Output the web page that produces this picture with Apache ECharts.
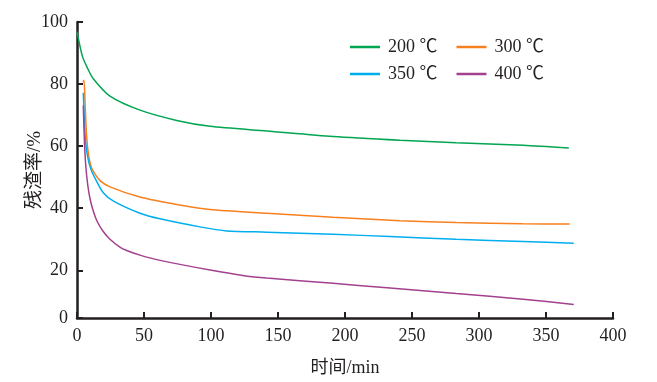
<!DOCTYPE html>
<html>
<head>
<meta charset="utf-8">
<script src="https://cdn.jsdelivr.net/npm/echarts@6/dist/echarts.min.js"></script>
<style>
html,body{margin:0;padding:0;background:#fff;}
#c{width:657px;height:382px;}
</style>
</head>
<body>
<div id="c"></div>
<script>
// ---- data ----
const names = ['200 ℃', '300 ℃', '350 ℃', '400 ℃'];
const colors = ['#00a651', '#f7811f', '#00aeef', '#a3418f'];

const t200 = [0, 4, 8, 12, 24.6, 47, 74.4, 99.3, 141.6, 191, 241, 283, 333, 367];
const v200 = [96.9, 89, 85, 81.8, 76.1, 71.6, 68.3, 66.4, 64.9, 63.1, 61.9, 61.1, 60.3, 59.4];

const t300 = [4.5, 5.2, 6.2, 7.2, 8.5, 10, 12, 17.2, 24.6, 47, 74.4, 99.3, 141.6, 191, 241, 283, 333, 367.7];
const v300 = [80.6, 81.2, 72, 63, 57.5, 54.2, 52.0, 48.9, 46.9, 43.6, 41.2, 39.6, 38.4, 37.1, 36.0, 35.4, 35.0, 34.9];

const t350 = [4.7, 5.6, 6.5, 8, 10, 12.4, 19.6, 27.6, 47, 62, 91.8, 111.7, 141.6, 191, 233.6, 283, 333, 370.7];
const v350 = [77.2, 67, 61, 56.5, 53, 50.6, 45.0, 42.2, 38.4, 36.6, 34.0, 32.7, 32.3, 31.6, 30.9, 30.0, 29.3, 28.7];

const t400 = [4.7, 5.5, 6.5, 8, 10, 12.5, 15, 18.9, 24.6, 32, 37.1, 47, 62, 99.3, 126, 141.6, 191, 233.6, 283, 333, 370.7];
const v400 = [73.1, 62, 54, 47.5, 42.5, 38.6, 35.8, 32.9, 30.0, 27.5, 26.4, 24.9, 23.2, 20.1, 18.2, 17.5, 15.8, 14.3, 12.5, 10.7, 9.0];

const xTicks = [0, 50, 100, 150, 200, 250, 300, 350, 400];
const yBottom = 4.64;           // axis bottom of the reference (labelled "0")
const yTicks = [yBottom, 20, 40, 60, 80, 100];
// ---------------------------------------

const times = [t200, t300, t350, t400];
const vals = [v200, v300, v350, v400];
const pair = (t, v) => t.map((x, i) => [x, v[i]]);

const font = '"Liberation Serif", "Noto Sans CJK SC", serif';
const axisColor = '#231f20';

const chart = echarts.init(document.getElementById('c'), null, {renderer: 'canvas'});
const legendBase = {
  orient: 'horizontal',
  left: 345,
  itemWidth: 30,
  itemHeight: 2.5,
  itemGap: 19,
  icon: 'rect',
  textStyle: {fontFamily: font, fontSize: 18, color: '#231f20', padding: [0, 0, 0, 3]}
};
chart.setOption({
  animation: false,
  backgroundColor: '#fff',
  grid: {left: 77, right: 44, top: 22, bottom: 62, containLabel: false},
  legend: [
    Object.assign({}, legendBase, {top: 33, data: [names[0], names[1]]}),
    Object.assign({}, legendBase, {top: 60, data: [names[2], names[3]]})
  ],
  xAxis: {
    type: 'value', min: 0, max: 400, interval: 50,
    name: '时间/min', nameLocation: 'middle', nameGap: 41, nameMoveOverlap: false,
    nameTextStyle: {fontFamily: font, fontSize: 18, color: '#231f20'},
    axisLine: {show: true, lineStyle: {color: axisColor, width: 2.5}},
    axisTick: {show: true, inside: true, length: 6, lineStyle: {color: axisColor, width: 2}},
    axisLabel: {fontFamily: font, fontSize: 18, color: '#231f20', margin: 9,
      customValues: xTicks},
    splitLine: {show: false}
  },
  yAxis: {
    type: 'value', min: yBottom, max: 100,
    name: '残渣率/%', nameLocation: 'middle', nameGap: 32, nameRotate: 90, nameMoveOverlap: false,
    nameTextStyle: {fontFamily: font, fontSize: 19, color: '#231f20'},
    axisLine: {show: true, lineStyle: {color: axisColor, width: 2.5}},
    axisTick: {show: true, inside: true, length: 6, lineStyle: {color: axisColor, width: 2},
      customValues: yTicks},
    axisLabel: {fontFamily: font, fontSize: 18, color: '#231f20', margin: 9,
      customValues: yTicks,
      formatter: v => (v < 5 ? '0' : String(Math.round(v)))},
    splitLine: {show: false}
  },
  series: names.map((n, i) => ({
    name: n, type: 'line', data: pair(times[i], vals[i]),
    showSymbol: false, symbol: 'none', smooth: 0.25,
    lineStyle: {color: colors[i], width: 1.5},
    itemStyle: {color: colors[i]}
  }))
});
</script>
</body>
</html>
